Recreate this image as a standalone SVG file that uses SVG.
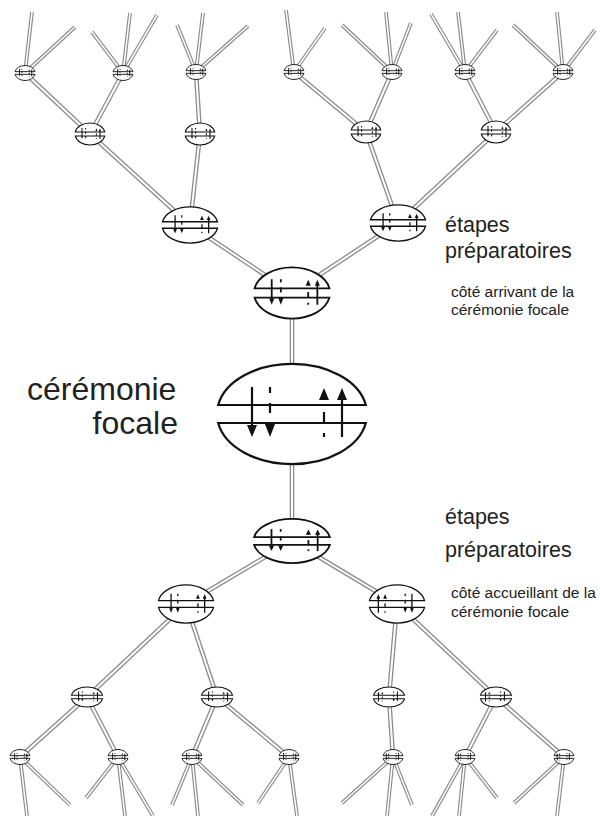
<svg xmlns="http://www.w3.org/2000/svg" xmlns:xlink="http://www.w3.org/1999/xlink" width="600" height="816" viewBox="0 0 600 816">
<style>
.lbl{font-family:"Liberation Sans",Arial,sans-serif;fill:#222}
.big{stroke-width:2.2}
.m{stroke-width:1.8}
.s{stroke-width:1.3}
.xs{stroke-width:1.05}
.xxs{stroke-width:0.9}
</style>
<defs>
<g id="nd" stroke="#111" fill="none">
<ellipse rx="75" ry="50" fill="#fff" stroke="none"/>
<path d="M-73.8,-9 A75,50 0 0 1 73.8,-9 Z" vector-effect="non-scaling-stroke"/>
<path d="M73.8,9 A75,50 0 0 1 -73.8,9 Z" vector-effect="non-scaling-stroke"/>
<line x1="-40" y1="-27" x2="-40" y2="13" vector-effect="non-scaling-stroke"/>
<polygon points="-45,11 -35,11 -40,23" fill="#111" stroke="none"/>
<line x1="-22" y1="-27" x2="-22" y2="-21" vector-effect="non-scaling-stroke"/>
<line x1="-22" y1="-11" x2="-22" y2="-1" vector-effect="non-scaling-stroke"/>
<polygon points="-27,10 -17,10 -22,23" fill="#111" stroke="none"/>
<polygon points="27,-14 37,-14 32,-26" fill="#111" stroke="none"/>
<line x1="32" y1="-2" x2="32" y2="8" vector-effect="non-scaling-stroke"/>
<line x1="32" y1="19" x2="32" y2="23" vector-effect="non-scaling-stroke"/>
<polygon points="45,-14 55,-14 50,-26" fill="#111" stroke="none"/>
<line x1="50" y1="-16" x2="50" y2="23" vector-effect="non-scaling-stroke"/>
</g>
</defs>
<rect width="600" height="816" fill="#fff"/>
<g id="connectors" fill="none">
<g stroke="#8c8c8c" stroke-width="4.6">
<g id="rails">
<line x1="292" y1="414" x2="292" y2="293"/>
<line x1="292" y1="293" x2="190" y2="225"/>
<line x1="292" y1="293" x2="398" y2="223"/>
<line x1="190" y1="225" x2="90" y2="134"/>
<line x1="190" y1="225" x2="200" y2="134"/>
<line x1="398" y1="223" x2="366" y2="132"/>
<line x1="398" y1="223" x2="496" y2="132"/>
<line x1="90" y1="134" x2="25" y2="73"/>
<line x1="90" y1="134" x2="123" y2="73"/>
<line x1="200" y1="134" x2="196" y2="72"/>
<line x1="366" y1="132" x2="294" y2="72"/>
<line x1="366" y1="132" x2="392" y2="72"/>
<line x1="496" y1="132" x2="465" y2="72"/>
<line x1="496" y1="132" x2="563" y2="72"/>
<line x1="292" y1="414" x2="292" y2="541"/>
<line x1="292" y1="541" x2="186" y2="604"/>
<line x1="292" y1="541" x2="397" y2="604"/>
<line x1="186" y1="604" x2="87" y2="697"/>
<line x1="186" y1="604" x2="217" y2="697"/>
<line x1="397" y1="604" x2="389" y2="697"/>
<line x1="397" y1="604" x2="496" y2="697"/>
<line x1="87" y1="697" x2="20" y2="757"/>
<line x1="87" y1="697" x2="118" y2="757"/>
<line x1="217" y1="697" x2="192" y2="757"/>
<line x1="217" y1="697" x2="289" y2="757"/>
<line x1="389" y1="697" x2="393" y2="757"/>
<line x1="496" y1="697" x2="465" y2="757"/>
<line x1="496" y1="697" x2="564" y2="757"/>
</g>
</g>
<use href="#rails" stroke="#fff" stroke-width="2.0"/>
<g stroke="#8c8c8c" stroke-width="3.8">
<g id="leaves">
<line x1="25" y1="73" x2="32" y2="12"/>
<line x1="25" y1="73" x2="75" y2="27"/>
<line x1="123" y1="73" x2="92" y2="32"/>
<line x1="123" y1="73" x2="130" y2="13"/>
<line x1="123" y1="73" x2="157" y2="15"/>
<line x1="196" y1="72" x2="177" y2="25"/>
<line x1="196" y1="72" x2="203" y2="13"/>
<line x1="196" y1="72" x2="248" y2="26"/>
<line x1="294" y1="72" x2="286" y2="10"/>
<line x1="294" y1="72" x2="325" y2="28"/>
<line x1="392" y1="72" x2="342" y2="25"/>
<line x1="392" y1="72" x2="386" y2="12"/>
<line x1="392" y1="72" x2="411" y2="23"/>
<line x1="465" y1="72" x2="431" y2="14"/>
<line x1="465" y1="72" x2="458" y2="12"/>
<line x1="465" y1="72" x2="497" y2="30"/>
<line x1="563" y1="72" x2="513" y2="25"/>
<line x1="563" y1="72" x2="557" y2="12"/>
<line x1="563" y1="72" x2="595" y2="30"/>
<line x1="20" y1="757" x2="27" y2="816"/>
<line x1="20" y1="757" x2="70" y2="805"/>
<line x1="118" y1="757" x2="86" y2="798"/>
<line x1="118" y1="757" x2="125" y2="816"/>
<line x1="118" y1="757" x2="153" y2="816"/>
<line x1="192" y1="757" x2="172" y2="805"/>
<line x1="192" y1="757" x2="198" y2="816"/>
<line x1="192" y1="757" x2="243" y2="805"/>
<line x1="289" y1="757" x2="258" y2="803"/>
<line x1="289" y1="757" x2="297" y2="816"/>
<line x1="393" y1="757" x2="342" y2="803"/>
<line x1="393" y1="757" x2="387" y2="816"/>
<line x1="393" y1="757" x2="412" y2="805"/>
<line x1="465" y1="757" x2="432" y2="816"/>
<line x1="465" y1="757" x2="459" y2="816"/>
<line x1="465" y1="757" x2="497" y2="798"/>
<line x1="564" y1="757" x2="514" y2="803"/>
<line x1="564" y1="757" x2="557" y2="816"/>
</g>
</g>
<use href="#leaves" stroke="#fff" stroke-width="1.5"/>
</g>
<g id="node-focal"><use href="#nd" class="big" transform="translate(292,414)"/></g>
<g id="node-up1"><use href="#nd" class="m" transform="translate(292,293) scale(0.507,0.51)"/></g>
<g id="node-up2a"><use href="#nd" class="s" transform="translate(190,225) scale(0.373,0.36)"/></g>
<g id="node-up2b"><use href="#nd" class="s" transform="translate(398,223) scale(0.373,0.36)"/></g>
<g id="node-up3a"><use href="#nd" class="xs" transform="translate(90,134) scale(0.2,0.22)"/></g>
<g id="node-up3b"><use href="#nd" class="xs" transform="translate(200,134) scale(0.2,0.22)"/></g>
<g id="node-up3c"><use href="#nd" class="xs" transform="translate(366,132) scale(0.2,0.22)"/></g>
<g id="node-up3d"><use href="#nd" class="xs" transform="translate(496,132) scale(0.2,0.22)"/></g>
<g id="node-up4a"><use href="#nd" class="xxs" transform="translate(25,73) scale(0.135,0.15)"/></g>
<g id="node-up4b"><use href="#nd" class="xxs" transform="translate(123,73) scale(0.135,0.15)"/></g>
<g id="node-up4c"><use href="#nd" class="xxs" transform="translate(196,72) scale(0.135,0.15)"/></g>
<g id="node-up4d"><use href="#nd" class="xxs" transform="translate(294,72) scale(0.135,0.15)"/></g>
<g id="node-up4e"><use href="#nd" class="xxs" transform="translate(392,72) scale(0.135,0.15)"/></g>
<g id="node-up4f"><use href="#nd" class="xxs" transform="translate(465,72) scale(0.135,0.15)"/></g>
<g id="node-up4g"><use href="#nd" class="xxs" transform="translate(563,72) scale(0.135,0.15)"/></g>
<g id="node-dn1"><use href="#nd" class="m" transform="translate(292,541) scale(0.513,0.44)"/></g>
<g id="node-dn2a"><use href="#nd" class="s" transform="translate(186,604) scale(0.373,0.38)"/></g>
<g id="node-dn2b"><use href="#nd" class="s" transform="translate(397,604) scale(-0.373,0.38)"/></g>
<g id="node-dn3a"><use href="#nd" class="xs" transform="translate(87,697) scale(0.21,0.2)"/></g>
<g id="node-dn3b"><use href="#nd" class="xs" transform="translate(217,697) scale(0.21,0.2)"/></g>
<g id="node-dn3c"><use href="#nd" class="xs" transform="translate(389,697) scale(-0.21,0.2)"/></g>
<g id="node-dn3d"><use href="#nd" class="xs" transform="translate(496,697) scale(-0.21,0.2)"/></g>
<g id="node-dn4a"><use href="#nd" class="xxs" transform="translate(20,757) scale(0.135,0.15)"/></g>
<g id="node-dn4b"><use href="#nd" class="xxs" transform="translate(118,757) scale(0.135,0.15)"/></g>
<g id="node-dn4c"><use href="#nd" class="xxs" transform="translate(192,757) scale(0.135,0.15)"/></g>
<g id="node-dn4d"><use href="#nd" class="xxs" transform="translate(289,757) scale(0.135,0.15)"/></g>
<g id="node-dn4e"><use href="#nd" class="xxs" transform="translate(393,757) scale(-0.135,0.15)"/></g>
<g id="node-dn4f"><use href="#nd" class="xxs" transform="translate(465,757) scale(-0.135,0.15)"/></g>
<g id="node-dn4g"><use href="#nd" class="xxs" transform="translate(564,757) scale(-0.135,0.15)"/></g>
<g id="labels">
<text class="lbl" x="27" y="400" font-size="32">cérémonie</text>
<text class="lbl" x="178" y="434" font-size="32" text-anchor="end">focale</text>
<text class="lbl" x="445" y="232" font-size="21.5">étapes</text>
<text class="lbl" x="445" y="258" font-size="21.5">préparatoires</text>
<text class="lbl" x="451" y="297" font-size="15.5">côté arrivant de la</text>
<text class="lbl" x="451" y="315" font-size="15.5">cérémonie focale</text>
<text class="lbl" x="445" y="524" font-size="21.5">étapes</text>
<text class="lbl" x="445" y="557" font-size="21.5">préparatoires</text>
<text class="lbl" x="451" y="598" font-size="15.5">côté accueillant de la</text>
<text class="lbl" x="451" y="617" font-size="15.5">cérémonie focale</text>
</g>
</svg>
